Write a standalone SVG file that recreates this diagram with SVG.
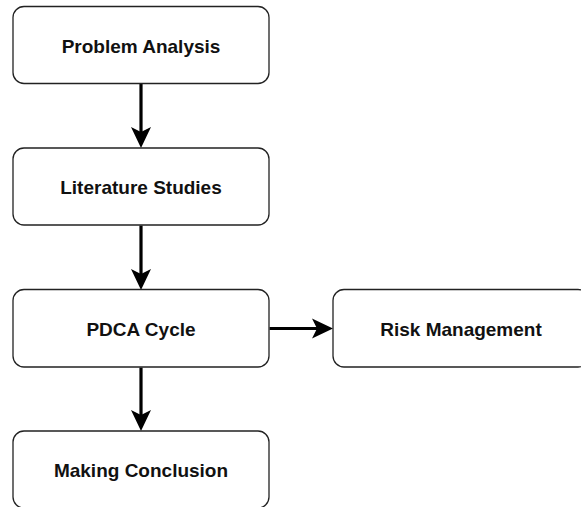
<svg xmlns="http://www.w3.org/2000/svg" width="581" height="507" viewBox="0 0 581 507">
<style>
.box{fill:#fff;stroke:#222;stroke-width:1.3}
.lbl{font-family:"Liberation Sans",Arial,sans-serif;font-weight:bold;font-size:19px;fill:#111;text-anchor:middle}
.edge{stroke:#000;stroke-width:3.2;fill:none}
.head{fill:#000;stroke:none}
</style>
<rect width="581" height="507" fill="#fff"/>
<g id="connectors">
<line class="edge" x1="141" y1="83.5" x2="141" y2="134"/>
<path class="head" d="M141 148 L131 127 L141 132 L151 127 Z"/>
<line class="edge" x1="141" y1="225.5" x2="141" y2="276"/>
<path class="head" d="M141 290 L131 269 L141 274 L151 269 Z"/>
<line class="edge" x1="141" y1="367.5" x2="141" y2="417"/>
<path class="head" d="M141 431 L131 410 L141 415 L151 410 Z"/>
<line class="edge" x1="269.5" y1="328.5" x2="319" y2="328.5"/>
<path class="head" d="M333 328.5 L312 318.5 L317 328.5 L312 338.5 Z"/>
</g>
<g id="problem-analysis">
<rect class="box" x="13" y="6.5" width="256" height="77" rx="11"/>
<text class="lbl" x="141" y="52.5">Problem Analysis</text>
</g>
<g id="literature-studies">
<rect class="box" x="13" y="148" width="256" height="77" rx="11"/>
<text class="lbl" x="141" y="194">Literature Studies</text>
</g>
<g id="pdca-cycle">
<rect class="box" x="13" y="289.5" width="256" height="77.5" rx="11"/>
<text class="lbl" x="141" y="335.5">PDCA Cycle</text>
</g>
<g id="risk-management">
<rect class="box" x="333" y="289.5" width="256" height="77.5" rx="11"/>
<text class="lbl" x="461" y="335.5">Risk Management</text>
</g>
<g id="making-conclusion">
<rect class="box" x="13" y="431" width="256" height="77" rx="11"/>
<text class="lbl" x="141" y="477">Making Conclusion</text>
</g>
</svg>
